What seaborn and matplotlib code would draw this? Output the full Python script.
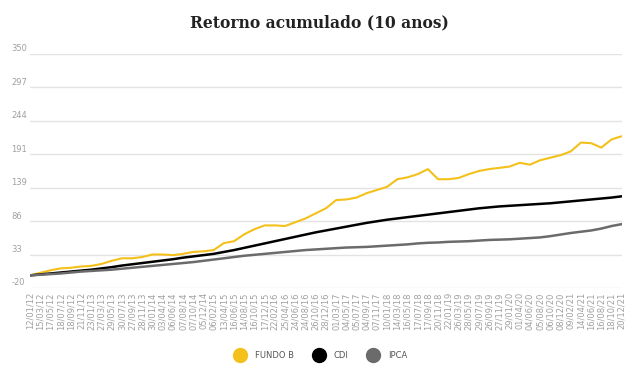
import numpy as np
import pandas as pd
import matplotlib
matplotlib.use('Agg')
import matplotlib.pyplot as plt
from matplotlib.lines import Line2D
import seaborn as sns

# Datas exibidas no eixo x
datas = ['12/01/12', '15/03/12', '17/05/12', '18/07/12', '18/09/12', '21/11/12',
         '23/01/13', '27/03/13', '29/05/13', '30/07/13', '27/09/13', '28/11/13',
         '30/01/14', '03/04/14', '06/06/14', '07/08/14', '07/10/14', '05/12/14',
         '06/02/15', '13/04/15', '16/06/15', '14/08/15', '16/10/15', '17/12/15',
         '22/02/16', '25/04/16', '24/06/16', '24/08/16', '26/10/16', '28/12/16',
         '01/03/17', '04/05/17', '05/07/17', '04/09/17', '07/11/17', '10/01/18',
         '14/03/18', '16/05/18', '17/07/18', '17/09/18', '20/11/18', '22/01/19',
         '26/03/19', '28/05/19', '29/07/19', '26/09/19', '27/11/19', '29/01/20',
         '01/04/20', '04/06/20', '05/08/20', '06/10/20', '08/12/20', '09/02/21',
         '14/04/21', '16/06/21', '16/08/21', '18/10/21', '20/12/21']

fundo_b = [0, 4, 8, 11, 12, 14, 15, 18, 23, 27, 27, 29, 33, 33, 32, 34, 37, 38, 40, 51,
           54, 65, 73, 79, 79, 78, 84, 90, 98, 106, 119, 120, 123, 130, 135, 140, 152,
           155, 160, 168, 152, 152, 154, 160, 165, 168, 170, 172, 178, 175, 182, 186,
           190, 196, 210, 209, 202, 215, 220]

cdi = [0, 1.5, 3, 4.5, 6, 7.5, 9, 11, 13, 15.5, 17.5, 19.5, 21.5, 23.5, 25.5, 28, 30,
       32, 34, 37, 40, 43.5, 47, 50.5, 54, 57.5, 61, 64.5, 68, 71, 74, 77, 80, 83, 85.5,
       88, 90, 92, 94, 96, 98, 100, 102, 104, 106, 107.5, 109, 110, 111, 112, 113, 114,
       115.5, 117, 118.5, 120, 121.5, 123, 125]

ipca = [0, 1, 2, 3, 4.5, 6, 7, 8, 9, 10.5, 12, 13.5, 15, 16.5, 18, 19.5, 21, 23, 25, 27,
        29, 31, 32.5, 34, 35.5, 37, 38.5, 40, 41, 42, 43, 44, 44.5, 45, 46, 47, 48, 49,
        50.5, 51.5, 52, 53, 53.5, 54, 55, 56, 56.5, 57, 58, 59, 60, 62, 64.5, 67, 69,
        71, 74, 78, 81]

series = ['FUNDO B', 'CDI', 'IPCA']
cores = ['#F4C01A', '#000000', '#6b6b6b']
yticks = [-20, 33, 86, 139, 191, 244, 297, 350]

df = pd.DataFrame({'data': datas * 3,
                   'valor': fundo_b + cdi + ipca,
                   'serie': ['FUNDO B'] * len(datas) + ['CDI'] * len(datas) + ['IPCA'] * len(datas)})

sns.set_style('white')
plt.rcParams['font.family'] = ['DejaVu Sans']

fig = plt.figure(figsize=(6.39, 3.83), dpi=100)
ax = fig.add_axes([0.047, 0.248, 0.926, 0.611])

sns.lineplot(data=df, x='data', y='valor', hue='serie', hue_order=series,
             palette=dict(zip(series, cores)), sort=False, legend=False, ax=ax)
for ln, lw in zip(ax.get_lines(), [1.5, 1.8, 1.8]):
    ln.set_linewidth(lw)

ax.set_xlim(0, len(datas) - 1)
ax.set_ylim(-20, 350)
ax.set_yticks(np.linspace(-20, 350, 8))
ax.set_yticklabels([])
ax.yaxis.grid(True, color='#e3e3e3', linewidth=1)
ax.xaxis.grid(False)
for s in ax.spines.values():
    s.set_visible(False)
ax.tick_params(axis='y', length=0)
ax.tick_params(axis='x', length=0, pad=3, labelsize=6, labelcolor='#a0a0a0', labelrotation=90)
ax.set_xlabel(None)
ax.set_ylabel(None)

# rótulos do eixo y acima das linhas de grade
for v, lab in zip(np.linspace(-20, 350, 8), yticks):
    ax.text(-0.032, v + 1, str(lab), transform=ax.get_yaxis_transform(),
            ha='left', va='bottom', fontsize=6, color='#a0a0a0')

fig.text(0.5, 0.94, 'Retorno acumulado (10 anos)', ha='center', va='center',
         fontsize=11.2, family='DejaVu Serif', fontweight='semibold', color='#222222')

handles = [Line2D([0], [0], marker='o', linestyle='', markersize=10,
                  markerfacecolor=c, markeredgecolor=c) for c in cores]
fig.legend(handles, series, loc='center', bbox_to_anchor=(0.5, 0.073), ncol=3,
           frameon=False, fontsize=6, labelcolor='#555555', handletextpad=0.8,
           columnspacing=2.0)

plt.savefig('out.png', dpi=100)
